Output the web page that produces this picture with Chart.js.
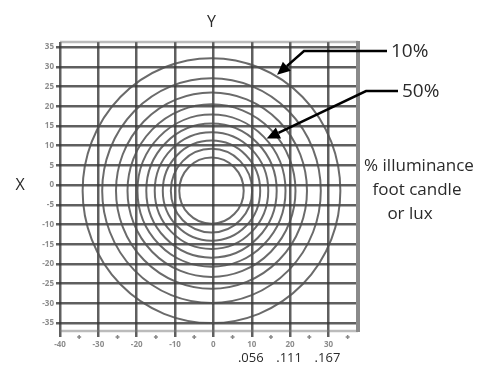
<!DOCTYPE html>
<html>
<head>
<meta charset="utf-8">
<script src="https://cdn.jsdelivr.net/npm/chart.js@4"></script>
<style>
  html, body { margin: 0; padding: 0; background: #fff; }
  #wrap { width: 499px; height: 368px; position: relative; }
</style>
</head>
<body>
<div id="wrap"><canvas id="chart" width="499" height="368"></canvas></div>
<script>
// axis ranges (data units)
const xRange = [-40, 37.7];
const yRange = [-37, 36.3];

// iso-illuminance rings, radius in data units, all around the same centre
const ringCenter = [-0.5, -1.4];
const ringRadii = [8.4, 10.6, 12.7, 14.8, 17, 19.3, 21.9, 24.9, 28.5, 33.6];

// secondary labels under the x axis
const luxTicks = [10, 20, 30];
const luxLabels = ['.056', '.111', '.167'];

// callouts: tip of arrow in data units, label text
const callouts = [
    { label: '10%', tip: [16.6, 28], elbow: [304, 51], end: [387, 51], text: [391, 52] },
    { label: '50%', tip: [13.9, 11.8], elbow: [366, 91], end: [398, 91], text: [402, 92] }
];

const sideText = [
    { text: '% illuminance', x: 419, y: 166 },
    { text: 'foot candle', x: 417, y: 190 },
    { text: 'or lux', x: 410, y: 214 }
];

const FONT = '"Open Sans", "DejaVu Sans", sans-serif';

const decorPlugin = {
    id: 'decor',
    beforeDatasetsDraw(chart) {
        const { ctx, chartArea: a, scales: { x, y } } = chart;
        ctx.save();
        // frame: light top/bottom, heavy right edge
        ctx.strokeStyle = 'rgba(120,120,120,0.5)';
        ctx.lineWidth = 2.5;
        ctx.beginPath();
        ctx.moveTo(a.left, a.top); ctx.lineTo(a.right, a.top);
        ctx.moveTo(a.left, a.bottom); ctx.lineTo(a.right, a.bottom);
        ctx.stroke();
        ctx.strokeStyle = '#8a8a8a';
        ctx.lineWidth = 4;
        ctx.beginPath();
        ctx.moveTo(a.right, a.top - 1); ctx.lineTo(a.right, a.bottom + 1);
        ctx.stroke();

        // minor marks under the x axis
        ctx.strokeStyle = '#888';
        ctx.lineWidth = 1.5;
        for (let v = -35; v < xRange[1]; v += 10) {
            const px = x.getPixelForValue(v);
            ctx.beginPath();
            ctx.moveTo(px, a.bottom + 4); ctx.lineTo(px, a.bottom + 8);
            ctx.moveTo(px - 2, a.bottom + 6); ctx.lineTo(px + 2, a.bottom + 6);
            ctx.stroke();
        }

        // rings
        ctx.beginPath();
        ctx.rect(a.left, a.top, a.right - a.left, a.bottom - a.top);
        ctx.clip();
        ctx.strokeStyle = 'rgba(80,80,80,0.85)';
        ctx.lineWidth = 2;
        const cx = x.getPixelForValue(ringCenter[0]);
        const cy = y.getPixelForValue(ringCenter[1]);
        ringRadii.forEach(r => {
            const rx = Math.abs(x.getPixelForValue(ringCenter[0] + r) - cx);
            const ry = Math.abs(y.getPixelForValue(ringCenter[1] + r) - cy);
            ctx.beginPath();
            ctx.ellipse(cx, cy, rx, ry, 0, 0, Math.PI * 2);
            ctx.stroke();
        });
        ctx.restore();
    },
    afterDraw(chart) {
        const { ctx, scales: { x, y } } = chart;
        ctx.save();
        ctx.fillStyle = '#2a2a2a';
        ctx.textAlign = 'center';
        ctx.textBaseline = 'middle';

        // axis names
        ctx.font = '16px ' + FONT;
        ctx.fillText('Y', x.getPixelForValue(0) - 2, 22);
        ctx.fillText('X', 20, y.getPixelForValue(0));

        // lux values
        ctx.font = '13px ' + FONT;
        luxTicks.forEach((v, i) => {
            ctx.fillText(luxLabels[i], x.getPixelForValue(v) - 1, 358);
        });

        // callouts
        ctx.strokeStyle = '#000';
        ctx.lineWidth = 2.5;
        callouts.forEach(c => {
            const tx = x.getPixelForValue(c.tip[0]);
            const ty = y.getPixelForValue(c.tip[1]);
            const ang = Math.atan2(ty - c.elbow[1], tx - c.elbow[0]);
            const hl = 13, hw = 6;
            const bx = tx - hl * Math.cos(ang), by = ty - hl * Math.sin(ang);
            ctx.beginPath();
            ctx.moveTo(c.end[0], c.end[1]);
            ctx.lineTo(c.elbow[0], c.elbow[1]);
            ctx.lineTo(bx, by);
            ctx.stroke();
            ctx.fillStyle = '#000';
            ctx.beginPath();
            ctx.moveTo(tx, ty);
            ctx.lineTo(bx + hw * Math.sin(ang), by - hw * Math.cos(ang));
            ctx.lineTo(bx - hw * Math.sin(ang), by + hw * Math.cos(ang));
            ctx.closePath();
            ctx.fill();
            ctx.fillStyle = '#2a2a2a';
            ctx.textAlign = 'left';
            ctx.font = '19px ' + FONT;
            ctx.fillText(c.label, c.text[0], c.text[1]);
        });

        // side note
        ctx.fillStyle = '#2a2a2a';
        ctx.textAlign = 'center';
        ctx.font = '17px ' + FONT;
        sideText.forEach(t => ctx.fillText(t.text, t.x, t.y));
        ctx.restore();
    }
};

new Chart(document.getElementById('chart'), {
    type: 'scatter',
    data: { datasets: [{ data: [], showLine: false }] },
    options: {
        responsive: false,
        animation: false,
        layout: { padding: { left: 0, top: 42, right: 141, bottom: 0 } },
        plugins: { legend: { display: false }, tooltip: { enabled: false } },
        scales: {
            x: {
                type: 'linear',
                min: xRange[0],
                max: xRange[1],
                afterFit: s => { s.height = 37; },
                grid: { color: 'rgba(55,55,55,0.8)', lineWidth: 2.5, tickLength: 6 },
                border: { display: false },
                ticks: {
                    stepSize: 10,
                    includeBounds: false,
                    maxRotation: 0,
                    padding: 3,
                    color: '#8c8c8c',
                    font: { family: FONT, size: 8, weight: 'bold' }
                }
            },
            y: {
                type: 'linear',
                min: yRange[0],
                max: yRange[1],
                afterFit: s => { s.width = 60; },
                grid: { color: 'rgba(55,55,55,0.8)', lineWidth: 2.5, tickLength: 4 },
                border: { display: false },
                ticks: {
                    stepSize: 5,
                    includeBounds: false,
                    padding: 2,
                    color: '#8c8c8c',
                    font: { family: FONT, size: 8, weight: 'bold' }
                }
            }
        }
    },
    plugins: [decorPlugin]
});
</script>
</body>
</html>
